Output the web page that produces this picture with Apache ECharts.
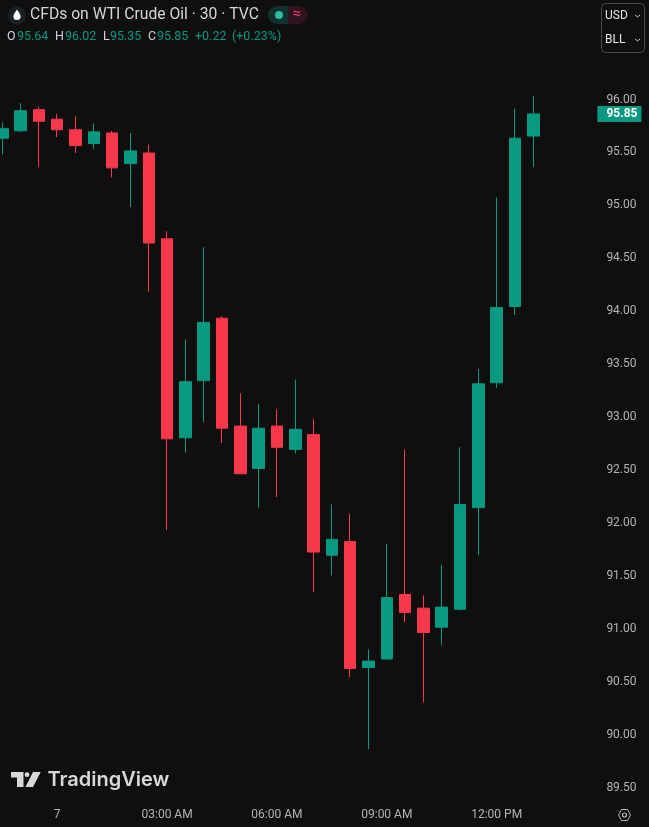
<!DOCTYPE html>
<html>
<head>
<meta charset="utf-8">
<style>html,body{margin:0;padding:0;background:#0f0f0f;overflow:hidden}#c{position:absolute;left:-7px;top:0;width:656px;height:827px}</style>
<script src="https://cdn.jsdelivr.net/npm/echarts@6/dist/echarts.min.js"></script>
</head>
<body>
<div id="c"></div>
<script>
const categories = ["10:30 PM","11:00 PM","11:30 PM","7","12:30 AM","1:00 AM","1:30 AM","2:00 AM","2:30 AM","03:00 AM","3:30 AM","4:00 AM","4:30 AM","5:00 AM","5:30 AM","06:00 AM","6:30 AM","7:00 AM","7:30 AM","8:00 AM","8:30 AM","09:00 AM","9:30 AM","10:00 AM","10:30 AM","11:00 AM","11:30 AM","12:00 PM","12:30 PM","1:00 PM","1:30 PM","2:00 PM","2:30 PM"];
const opens  = [95.62,95.69,95.89,95.80,95.70,95.57,95.67,95.38,95.48,94.67,92.79,93.33,93.92,92.90,92.50,92.90,92.68,92.82,91.68,91.81,90.62,90.70,91.31,91.18,91.00,91.17,92.13,93.31,94.03,95.64];
const closes = [95.71,95.88,95.78,95.70,95.55,95.68,95.34,95.50,94.63,92.78,93.32,93.88,92.88,92.45,92.88,92.70,92.87,91.71,91.83,90.61,90.68,91.28,91.14,90.95,91.19,92.16,93.30,94.02,95.62,95.85];
const lows   = [95.47,95.68,95.35,95.63,95.48,95.52,95.25,94.97,94.17,91.92,92.65,92.94,92.74,92.45,92.13,92.23,92.64,91.33,91.49,90.53,89.85,90.69,91.05,90.29,90.83,91.16,91.68,93.26,93.95,95.35];
const highs  = [95.77,95.95,95.92,95.85,95.83,95.76,95.69,95.67,95.56,94.74,93.72,94.59,93.94,93.21,93.11,93.06,93.34,92.97,92.16,92.07,90.79,91.79,92.68,91.30,91.59,92.70,93.44,95.06,95.90,96.02];
const lastPrice = 95.85;
const titleText = "CFDs on WTI Crude Oil · 30 · TVC";
const changeText = "+0.22";
const changePctText = "(+0.23%)";
const UP = "#089981", DOWN = "#f7374a", GREY = "#b4b4b4";
const FONT = "Roboto, sans-serif";

const candleData = opens.map((o, i) => [o, closes[i], lows[i], highs[i]]);
const n = opens.length;

function txt(x, y, text, size, fill, extra) {
  return {type:"text", x, y, silent:true, z:50, style:Object.assign({text, fontSize:size, fontFamily:FONT, fill, verticalAlign:"middle"}, extra||{})};
}
const header = [
  {type:"circle", shape:{cx:17,cy:15.5,r:9}, style:{fill:"#1b1f26"}, silent:true, z:49},
  {type:"polygon", shape:{points:[[17,9.5],[20,14],[14,14]]}, style:{fill:"#ffffff"}, silent:true, z:50},
  {type:"circle", shape:{cx:17,cy:16.5,r:3.6}, style:{fill:"#ffffff"}, silent:true, z:50},
  txt(30, 15.5, titleText, 15.7, "#d6d6d6"),
  txt(7, 36.5, "O", 12.5, "#d1d4dc"),
  txt(17, 36.5, opens[n-1].toFixed(2), 12.5, UP),
  txt(55, 36.5, "H", 12.5, "#d1d4dc"),
  txt(65, 36.5, highs[n-1].toFixed(2), 12.5, UP),
  txt(103, 36.5, "L", 12.5, "#d1d4dc"),
  txt(110, 36.5, lows[n-1].toFixed(2), 12.5, UP),
  txt(148, 36.5, "C", 12.5, "#d1d4dc"),
  txt(157, 36.5, closes[n-1].toFixed(2), 12.5, UP),
  txt(195, 36.5, changeText, 12.5, UP),
  txt(232, 36.5, changePctText, 12.5, UP),
  {type:"rect", shape:{x:268,y:6,width:20,height:18,r:[9,0,0,9]}, style:{fill:"#12302c"}, silent:true, z:49},
  {type:"rect", shape:{x:288,y:6,width:20,height:18,r:[0,9,9,0]}, style:{fill:"#2e1320"}, silent:true, z:49},
  {type:"circle", shape:{cx:279,cy:15,r:4}, style:{fill:"#2ebd9f"}, silent:true, z:50},
  txt(292.5, 14.5, "≈", 15, "#f23a6e"),
  {type:"rect", shape:{x:601.5,y:3.5,width:43,height:49,r:4}, style:{fill:"none",stroke:"#4a4a4a",lineWidth:1}, silent:true, z:49},
  txt(605, 16, "USD", 12, "#e4e4e4"),
  txt(605, 40, "BLL", 12, "#e4e4e4"),
  {type:"polyline", shape:{points:[[635,15],[637.5,17],[640,15]]}, style:{fill:"none",stroke:"#c8c8c8",lineWidth:1}, silent:true, z:50},
  {type:"polyline", shape:{points:[[635,39],[637.5,41],[640,39]]}, style:{fill:"none",stroke:"#c8c8c8",lineWidth:1}, silent:true, z:50},
  {type:"polygon", shape:{points:[[11,772],[23.5,772],[23.5,787],[17,787],[17,777.5],[11,777.5]]}, style:{fill:"#d8d8d8"}, silent:true, z:50},
  {type:"polygon", shape:{points:[[33,772],[40.7,772],[33,787],[25.5,787]]}, style:{fill:"#d8d8d8"}, silent:true, z:50},
  {type:"circle", shape:{cx:27,cy:774.7,r:2.4}, style:{fill:"#d8d8d8"}, silent:true, z:50},
  txt(47.5, 780, "TradingView", 20, "#d8d8d8", {fontFamily:"Inter, sans-serif", fontWeight:600}),
  {type:"polygon", shape:{points:[[618.5,815],[621.5,809.5],[627.5,809.5],[630.5,815],[627.5,820.5],[621.5,820.5]]}, style:{fill:"none",stroke:"#b8b8b8",lineWidth:1}, silent:true, z:50},
  {type:"circle", shape:{cx:624.5,cy:815,r:2}, style:{fill:"none",stroke:"#b8b8b8",lineWidth:1.2}, silent:true, z:50}
];

const chart = echarts.init(document.getElementById("c"), null, {renderer:"canvas", width:656, height:827});
chart.setOption({
  animation:false,
  backgroundColor:"#0f0f0f",
  grid:{left:0.15, top:45.08, width:604.23, height:740.92, containLabel:false},
  xAxis:{
    type:"category", data:categories, boundaryGap:true,
    axisLine:{show:false}, axisTick:{show:false}, splitLine:{show:false},
    axisLabel:{color:GREY, fontSize:12, fontFamily:FONT, margin:23, hideOverlap:false,
      interval:(i)=> i>=3 && (i-3)%6===0}
  },
  yAxis:{
    type:"value", position:"right", min:89.5, max:96.5, interval:0.5, scale:true,
    axisLine:{show:false}, axisTick:{show:false}, splitLine:{show:false},
    axisLabel:{color:GREY, fontSize:12, fontFamily:FONT, margin:9, showMaxLabel:false,
      verticalAlign:"top", lineHeight:3,
      formatter:(v)=>v.toFixed(2)}
  },
  series:[{
    type:"candlestick", data:candleData, barWidth:12, clip:false,
    itemStyle:{color:UP, color0:DOWN, borderColor:UP, borderColor0:DOWN, borderWidth:1},
    markLine:{
      silent:true, symbol:"none", animation:false,
      lineStyle:{color:"transparent", width:0},
      label:{show:true, position:"end", distance:0, formatter:()=>lastPrice.toFixed(2),
        color:"#ffffff", fontWeight:"bold", fontSize:12, fontFamily:FONT,
        backgroundColor:UP, padding:[3,4,1,9]},
      data:[{yAxis:lastPrice}]
    }
  }],
  graphic:[{type:"group", x:7, y:0, children:header}]
});
</script>
</body>
</html>
